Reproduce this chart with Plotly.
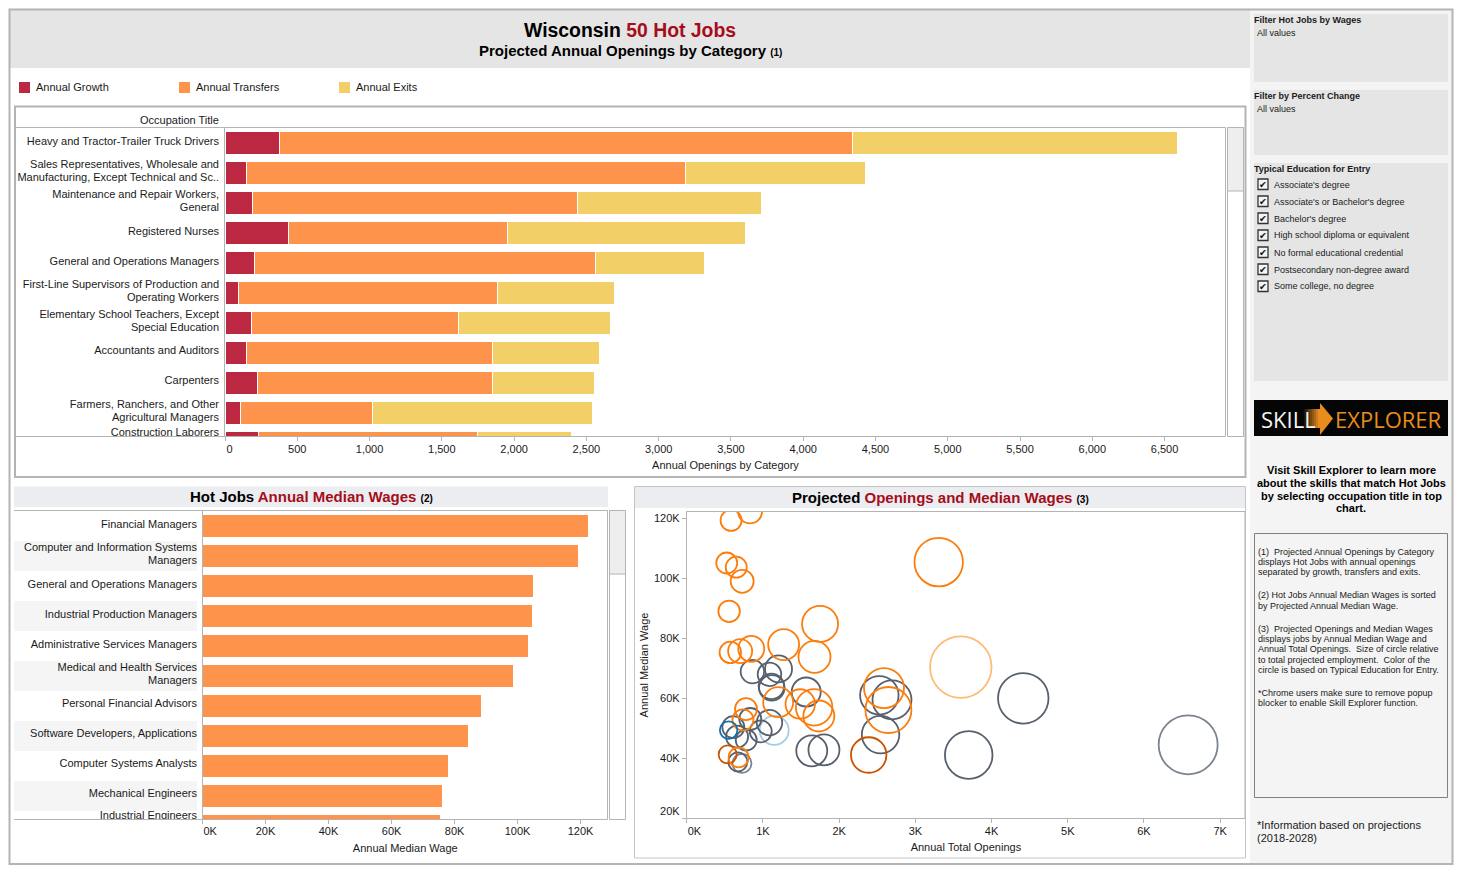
import plotly.graph_objects as go

W, H = 1462, 873
FONT = "Liberation Sans"
INK = "#1a1a1a"
RED = "#a50d1b"
LINE = "#b4b4b4"

# ---- top chart data ----
occupations = [
    "Heavy and Tractor-Trailer Truck Drivers",
    "Sales Representatives, Wholesale and<br>Manufacturing, Except Technical and Sc..",
    "Maintenance and Repair Workers,<br>General",
    "Registered Nurses",
    "General and Operations Managers",
    "First-Line Supervisors of Production and<br>Operating Workers",
    "Elementary School Teachers, Except<br>Special Education",
    "Accountants and Auditors",
    "Carpenters",
    "Farmers, Ranchers, and Other<br>Agricultural Managers",
    "Construction Laborers",
]
annual_growth = [374, 146, 187, 437, 201, 90, 180, 146, 222, 104, 229]
annual_transfers = [3967, 3037, 2254, 1519, 2365, 1796, 1436, 1706, 1630, 915, 1519]
annual_exits = [2247, 1248, 1269, 1643, 749, 812, 1054, 742, 707, 1526, 652]
opening_ticks = [0, 500, 1000, 1500, 2000, 2500, 3000, 3500, 4000, 4500, 5000, 5500, 6000, 6500]

growth_color = "#bc2742"
transfers_color = "#fe934c"
exits_color = "#f2d067"

# ---- wage chart data ----
wage_jobs = [
    "Financial Managers",
    "Computer and Information Systems<br>Managers",
    "General and Operations Managers",
    "Industrial Production Managers",
    "Administrative Services Managers",
    "Medical and Health Services<br>Managers",
    "Personal Financial Advisors",
    "Software Developers, Applications",
    "Computer Systems Analysts",
    "Mechanical Engineers",
    "Industrial Engineers",
]
median_wages = [122.4, 119.2, 105.0, 104.6, 103.3, 98.6, 88.4, 84.3, 78.0, 76.1, 75.4]
wage_ticks = [0, 20, 40, 60, 80, 100, 120]

# ---- scatter data: openings (K), wage (K), circle diameter ----
gray_x = [6.58, 0.724]
gray_y = [44.4, 38.2]
gray_d = [60, 20]

lightblue_x = [1.147]
lightblue_y = [49.2]
lightblue_d = [30]

dark_x = [4.416, 3.70, 2.543, 2.527, 2.693, 1.64, 1.80, 1.567, 1.204, 1.085, 0.861, 1.11, 1.116,
          1.085, 0.97, 0.78, 0.833, 0.61, 0.66, 0.67]
dark_y = [59.9, 41.0, 47.8, 60.9, 59.4, 42.4, 42.7, 62.0, 69.7, 67.9, 68.8, 63.9, 63.4,
          51.8, 48.9, 46.0, 53.0, 50.3, 47.1, 38.7]
dark_d = [51.5, 48.6, 38.5, 39.5, 40, 32, 32, 30, 28, 24.5, 24.5, 26.5, 26.5,
          26.5, 23, 22, 23, 23, 23, 20]

lightorange_x = [3.596]
lightorange_y = [70.3]
lightorange_d = [62.5]

darkorange_x = [2.387, 0.536]
darkorange_y = [41.0, 41.2]
darkorange_d = [36.5, 19]

orange_x = [0.581, 0.83, 0.524, 0.649, 0.727, 0.555, 3.306, 1.749, 1.676, 1.271, 0.846, 0.70, 0.571,
            2.588, 2.646, 1.489, 1.671, 1.733, 1.199, 0.737, 0.777, 0.68]
orange_y = [119.2, 122.2, 105.0, 103.6, 98.9, 88.9, 105.3, 84.7, 73.7, 77.8, 76.4, 75.6, 75.2,
            63.3, 56.0, 58.0, 56.9, 54.0, 58.6, 52.7, 56.3, 40.2]
orange_d = [22, 25, 22, 22, 24, 22.5, 49.5, 37, 33, 32, 27, 25, 22.5,
            41, 47, 30.5, 37.5, 32, 31, 22, 23, 21]

blue_x = [0.549]
blue_y = [49.3]
blue_d = [18.5]

education_groups = [
    ("Some college, no degree", gray_x, gray_y, gray_d, "#7b848f"),
    ("Postsecondary non-degree award", lightblue_x, lightblue_y, lightblue_d, "#a3cce9"),
    ("High school diploma or equivalent", dark_x, dark_y, dark_d, "#57606c"),
    ("No formal educational credential", lightorange_x, lightorange_y, lightorange_d, "#ffbc79"),
    ("Associate's degree", darkorange_x, darkorange_y, darkorange_d, "#c85200"),
    ("Bachelor's degree", orange_x, orange_y, orange_d, "#fc7d0b"),
    ("Associate's or Bachelor's degree", blue_x, blue_y, blue_d, "#1170aa"),
]

education_filters = [
    "Associate's degree",
    "Associate's or Bachelor's degree",
    "Bachelor's degree",
    "High school diploma or equivalent",
    "No formal educational credential",
    "Postsecondary non-degree award",
    "Some college, no degree",
]

visit_lines = [
    "Visit Skill Explorer to learn more",
    "about the skills that match Hot Jobs",
    "by selecting occupation title in top",
    "chart.",
]
note_lines = [
    ("(1)\u00a0 Projected Annual Openings by Category", 552),
    ("displays Hot Jobs with annual openings", 562),
    ("separated by growth, transfers and exits.", 572),
    ("(2) Hot Jobs Annual Median Wages is sorted", 595),
    ("by Projected Annual Median Wage.", 606),
    ("(3)\u00a0 Projected Openings and Median Wages", 629),
    ("displays jobs by Annual Median Wage and", 639),
    ("Annual Total Openings.\u00a0 Size of circle relative", 649),
    ("to total projected employment.\u00a0 Color of the", 660),
    ("circle is based on Typical Education for Entry.", 670),
    ("*Chrome users make sure to remove popup", 693),
    ("blocker to enable Skill Explorer function.", 703),
]


def fx(px):
    return px / W


def fy(py):
    return 1 - py / H


def dom_x(a, b):
    return [fx(a), fx(b)]


def dom_y(top, bottom):
    return [fy(bottom), fy(top)]


def label_lines(labels):
    """One text point per printed line; rows are 30px, lines sit 13px apart.
    The last row is scrolled part-way out of view, so its label rides higher."""
    ys, texts = [], []
    last = len(labels) - 1
    for r, lab in enumerate(labels):
        parts = lab.split("<br>")
        mid = 9.667 if r == last else r - 0.04
        for k, part in enumerate(parts):
            ys.append(mid + (k - (len(parts) - 1) / 2) * 13 / 30)
            texts.append(part)
    return ys, texts


fig = go.Figure()

# ---- stacked bars ----
rows = list(range(len(occupations)))
for name, vals, col in [
    ("Annual Growth", annual_growth, growth_color),
    ("Annual Transfers", annual_transfers, transfers_color),
    ("Annual Exits", annual_exits, exits_color),
]:
    fig.add_trace(go.Bar(
        y=rows, x=vals, name=name, orientation="h", width=0.767,
        marker=dict(color=col, line=dict(color="white", width=1)),
        xaxis="x", yaxis="y", showlegend=False,
    ))

# label columns are small text plots, so the last row clips at the frame as in the reference
occ_y, occ_text = label_lines(occupations)
fig.add_trace(go.Scatter(
    x=[1] * len(occ_y), y=occ_y, text=occ_text, mode="text",
    textposition="middle left", textfont=dict(family=FONT, size=11, color=INK),
    showlegend=False, xaxis="x2", yaxis="y2", hoverinfo="skip",
))

wage_rows = list(range(len(wage_jobs)))
fig.add_trace(go.Bar(
    y=wage_rows, x=median_wages, orientation="h", width=0.733,
    marker=dict(color=transfers_color), showlegend=False, xaxis="x3", yaxis="y3",
))
job_y, job_text = label_lines(wage_jobs)
fig.add_trace(go.Scatter(
    x=[1] * len(job_y), y=job_y, text=job_text, mode="text",
    textposition="middle left", textfont=dict(family=FONT, size=11, color=INK),
    showlegend=False, xaxis="x4", yaxis="y4", hoverinfo="skip",
))

# ---- bubble chart ----
for name, xs, ys, ds, col in education_groups:
    fig.add_trace(go.Scatter(
        x=xs, y=ys, mode="markers", name=name, showlegend=False, xaxis="x5", yaxis="y5",
        marker=dict(symbol="circle-open", size=[d - 1 for d in ds], color=col, opacity=1,
                    line=dict(width=1.8, color=col)),
    ))

axis_font = dict(family=FONT, size=11, color=INK)
tick_common = dict(ticks="outside", ticklen=4, tickcolor=LINE, tickwidth=1, showgrid=False,
                   zeroline=False, tickfont=axis_font, showline=False, fixedrange=True,
                   automargin=False)
hidden = dict(visible=False, range=[0, 1], fixedrange=True, automargin=False)
NB = "\u00a0"

fig.update_layout(
    template="none",
    width=W, height=H, autosize=False, margin=dict(l=0, r=0, t=0, b=0),
    paper_bgcolor="white", plot_bgcolor="rgba(0,0,0,0)", barmode="stack",
    font=dict(family=FONT, size=11, color=INK),
    showlegend=False,
    xaxis=dict(domain=dom_x(225, 1226), range=[0, 6925], tickmode="array", tickvals=opening_ticks,
               ticktext=[NB * 3 + "0"] + [f"{v:,}" for v in opening_ticks[1:]], ticklabelstandoff=-1,
               anchor="y", title=dict(text="Annual Openings by Category", standoff=7,
                                      font=dict(family=FONT, size=11, color=INK)), **tick_common),
    yaxis=dict(domain=dom_y(128, 436), range=[9.77, -0.5], visible=False, fixedrange=True, anchor="x",
               automargin=False),
    xaxis2=dict(domain=dom_x(15, 219), anchor="y2", **hidden),
    yaxis2=dict(domain=dom_y(128, 436), range=[9.77, -0.5], visible=False, fixedrange=True, anchor="x2",
                automargin=False),
    xaxis3=dict(domain=dom_x(202.5, 608), range=[0, 128.7], tickmode="array", tickvals=wage_ticks,
                ticktext=[NB * 5 + "0K"] + [f"{v}K" for v in wage_ticks[1:]], ticklabelstandoff=-2,
                anchor="y3", title=dict(text="Annual Median Wage", standoff=8,
                                        font=dict(family=FONT, size=11, color=INK)), **tick_common),
    yaxis3=dict(domain=dom_y(511, 819), range=[9.77, -0.5], visible=False, fixedrange=True, anchor="x3",
                automargin=False),
    xaxis4=dict(domain=dom_x(14, 197), anchor="y4", **hidden),
    yaxis4=dict(domain=dom_y(511, 819), range=[9.77, -0.5], visible=False, fixedrange=True, anchor="x4",
                automargin=False),
    xaxis5=dict(domain=dom_x(686.8, 1245), range=[0, 7.326], tickmode="array",
                tickvals=[0, 1, 2, 3, 4, 5, 6, 7],
                ticktext=[NB * 5 + "0K"] + [f"{v}K" for v in range(1, 8)], ticklabelstandoff=-1,
                anchor="y5", title=dict(text="Annual Total Openings", standoff=7,
                                        font=dict(family=FONT, size=11, color=INK)), **tick_common),
    yaxis5=dict(domain=dom_y(512, 818), range=[20, 122], tickmode="array",
                tickvals=[20, 40, 60, 80, 100, 120],
                ticktext=["20K<br>" + NB, "40K", "60K", "80K", "100K", "120K"], anchor="x5",
                title=dict(text="Annual Median Wage", standoff=3,
                           font=dict(family=FONT, size=11, color=INK)), **tick_common),
)

shapes = []


def rect(x0, y0, x1, y1, fill=None, line=None, lw=1, layer="below"):
    shapes.append(dict(type="rect", xref="paper", yref="paper", layer=layer,
                       x0=fx(x0), x1=fx(x1), y0=fy(y0), y1=fy(y1),
                       fillcolor=fill or "rgba(0,0,0,0)",
                       line=dict(color=line or "rgba(0,0,0,0)", width=lw if line else 0)))


def seg(x0, y0, x1, y1, color=LINE, lw=1, layer="above"):
    shapes.append(dict(type="line", xref="paper", yref="paper", layer=layer,
                       x0=fx(x0), x1=fx(x1), y0=fy(y0), y1=fy(y1), line=dict(color=color, width=lw)))


# side panel, title band and outer frame
rect(1250, 10, 1452, 863, fill="#f4f4f4")
rect(10, 10, 1250, 68, fill="#e5e5e5")
rect(9.5, 9.5, 1452.5, 864, line=LINE, lw=2)
rect(1254, 14, 1448, 82, fill="#e5e5e5")
rect(1254, 90, 1448, 155, fill="#e5e5e5")
rect(1254, 163, 1448, 381, fill="#e5e5e5")
rect(1254.5, 533.5, 1447.5, 797.5, line="#808080", lw=1)

# legend swatches
rect(19, 82, 30, 93, fill=growth_color)
rect(179, 82, 190, 93, fill=transfers_color)
rect(339, 82, 350, 93, fill=exits_color)

# top chart frame
rect(15, 106.5, 1245.5, 477, line=LINE, lw=2)
seg(15, 127.5, 1225.5, 127.5)
seg(224.5, 127.5, 224.5, 436.5)
seg(15, 436.5, 1225.5, 436.5)
seg(1225.5, 127.5, 1225.5, 436.5)
rect(1227.5, 127.5, 1243.5, 436.5, line=LINE)
rect(1227.5, 127.5, 1243.5, 191, fill="#eeeeee", line=LINE)

# wage chart frame
rect(14, 486.5, 608, 507, fill="#ecedf0")
for r in wage_rows[1::2]:
    shapes.append(dict(type="rect", xref="x4", yref="y4", layer="below", x0=0, x1=1.03,
                       y0=r - 0.5, y1=r + 0.5, fillcolor="#f5f5f5", line=dict(width=0)))
seg(14, 510.5, 607.5, 510.5)
seg(607.5, 510.5, 607.5, 819.5)
seg(202.5, 510.5, 202.5, 819.5)
seg(14, 819.5, 607.5, 819.5)
rect(609.5, 510.5, 625.5, 819.5, line=LINE)
rect(609.5, 510.5, 625.5, 574, fill="#eeeeee", line=LINE)

# bubble chart frame
rect(634.5, 486.5, 1245.5, 858, line="#c4c4c4")
rect(635, 487, 1245, 508, fill="#ecedf0")
seg(686.5, 511.5, 1245, 511.5)
seg(686.5, 511.5, 686.5, 818.5)
seg(683, 818.5, 1245, 818.5)
seg(1245, 511.5, 1245, 818.5)

# logo
rect(1254, 400, 1448, 436, fill="#050505")
for i in range(8):
    a = (i + 1) / 8
    rect(1304 + i * 2, 409, 1306 + i * 2, 428, fill=f"rgba(232,140,30,{a:.2f})")
shapes.append(dict(type="path", xref="paper", yref="paper", layer="below", line=dict(width=0),
                   fillcolor="#e88c1e",
                   path=f"M {fx(1320)} {fy(403)} L {fx(1333)} {fy(418.5)} L {fx(1320)} {fy(435)} Z"))

# filter check boxes
for i in range(len(education_filters)):
    y = 184.5 + 17 * i
    rect(1258, y - 5.5, 1268, y + 5, fill="#f4f4f4", line="#333333", lw=1.3)

fig.update_layout(shapes=shapes)

notes = []


def txt(x, y, s, size=11, anchor="left", color=INK, family=FONT, angle=0):
    notes.append(dict(xref="paper", yref="paper", x=fx(x), y=fy(y), text=s, showarrow=False,
                      xanchor=anchor, yanchor="middle", align=anchor, borderpad=0, textangle=angle,
                      font=dict(family=family, size=size, color=color)))


def red(s):
    return f'<span style="color:{RED}">{s}</span>'


def small(s, px):
    return f'<span style="font-size:{px}px">{s}</span>'


txt(630, 30, f"<b>Wisconsin {red('50 Hot Jobs')}</b>", 19.4, "center", "#000")
txt(630, 50, f"<b>Projected Annual Openings by Category {small('(1)', 10)}</b>", 15, "center", "#000")
txt(35, 87, "Annual Growth", 11)
txt(195, 87, "Annual Transfers", 11)
txt(355, 87, "Annual Exits", 11)
txt(220, 120, "Occupation Title", 11, "right")
txt(311, 496, f"<b>Hot Jobs {red('Annual Median Wages')} {small('(2)', 10)}</b>", 15, "center", "#000")
txt(940, 497, f"<b>Projected {red('Openings and Median Wages')} {small('(3)', 10)}</b>", 15, "center", "#000")

txt(1253, 20, "<b>Filter Hot Jobs by Wages</b>", 9)
txt(1256, 33, "All values", 9)
txt(1253, 96, "<b>Filter by Percent Change</b>", 9)
txt(1256, 109, "All values", 9)
txt(1253, 169, "<b>Typical Education for Entry</b>", 9)
for i, lab in enumerate(education_filters):
    y = 184.5 + 17 * i
    txt(1263, y, "\u2714", 9.5, "center", "#111", "DejaVu Sans")
    txt(1273, y, lab, 9)

txt(1260, 419, "SKILL", 22, "left", "#f4f4f4", "Open Sans")
txt(1334, 419, "EXPLORER", 22, "left", "#e88c1e", "Open Sans")

for i, s in enumerate(visit_lines):
    txt(1351, 470 + 12.8 * i, f"<b>{s}</b>", 11, "center", "#000")
for s, y in note_lines:
    txt(1257, y, s, 9)
txt(1256, 825, "*Information based on projections", 11)
txt(1256, 838, "(2018-2028)", 11)

fig.update_layout(annotations=notes)

fig.write_html("out.html", config={"displayModeBar": False},
               post_script="document.body.style.margin='0';document.body.style.overflow='hidden';")
